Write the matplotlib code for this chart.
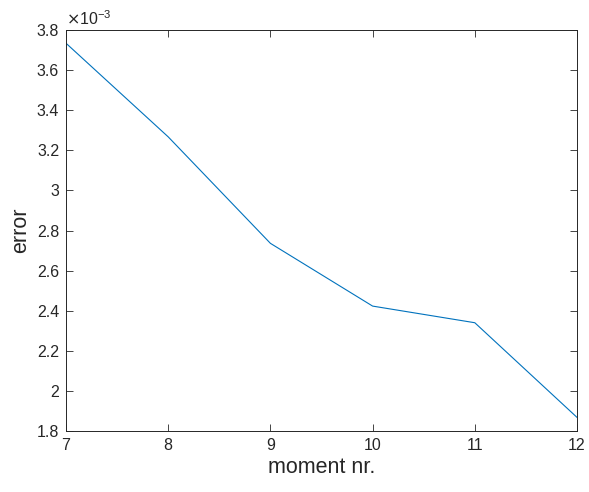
import matplotlib
matplotlib.use("Agg")
import matplotlib.pyplot as plt
from matplotlib.ticker import FuncFormatter

# ---------------------------------------------------------------------------
# DATA
# ---------------------------------------------------------------------------
moments = [7, 8, 9, 10, 11, 12]
errors = [3.734e-3, 3.267e-3, 2.736e-3, 2.423e-3, 2.340e-3, 1.868e-3]
y_ticks = [1.8e-3, 2.0e-3, 2.2e-3, 2.4e-3, 2.6e-3, 2.8e-3, 3.0e-3,
           3.2e-3, 3.4e-3, 3.6e-3, 3.8e-3]

plt.rcParams['font.family'] = ['Liberation Sans', 'DejaVu Sans']
AX_COLOR = '#262626'

fig = plt.figure(figsize=(5.89, 4.92), dpi=100)
ax = fig.add_axes([0.1121, 0.124, 0.8675, 0.815])

ax.plot(moments, errors, color='#0072BD', linewidth=0.8)

ax.set_xlim(7, 12)
ax.set_ylim(1.8e-3, 3.8e-3)
ax.set_xticks(moments)
ax.set_yticks(y_ticks)
# tick labels in units of 1e-3, MATLAB style
ax.yaxis.set_major_formatter(FuncFormatter(lambda v, p: f"{v * 1e3:g}"))

ax.tick_params(direction='in', top=True, right=True, length=5, width=0.6,
               colors=AX_COLOR, labelsize=11.5)
ax.tick_params(axis='x', pad=5)
ax.tick_params(axis='y', pad=5)
for sp in ax.spines.values():
    sp.set_color(AX_COLOR)
    sp.set_linewidth(0.7)

ax.set_xlabel("moment nr.", fontsize=15.5, color=AX_COLOR, labelpad=3)
ax.set_ylabel("error", fontsize=15.5, color=AX_COLOR, labelpad=4)

# exponent label at top-left of the axes
ax.text(0.0, 1.005, r"$\times$10$^{\mathregular{-3}}$", transform=ax.transAxes,
        fontsize=11.5, color=AX_COLOR, ha='left', va='bottom')

fig.savefig("out.png", dpi=100)
